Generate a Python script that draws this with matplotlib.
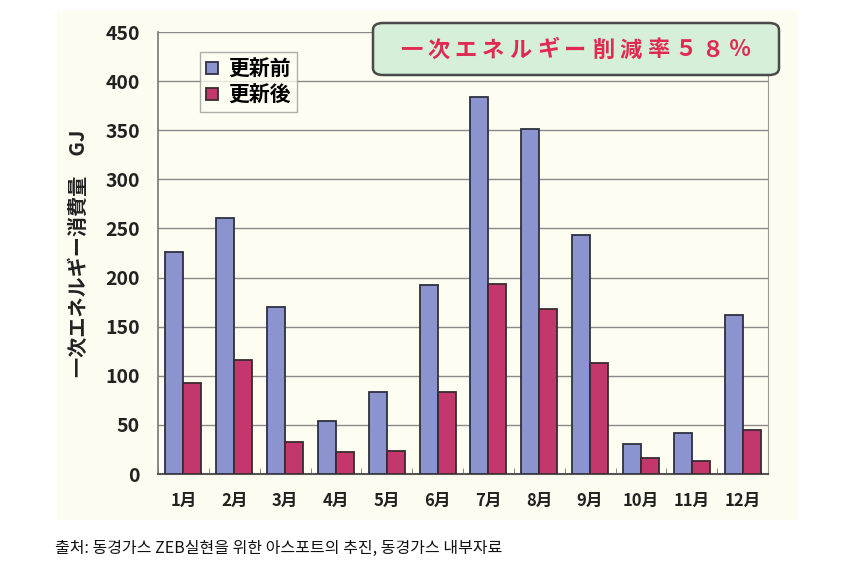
import matplotlib
matplotlib.use("Agg")
import matplotlib.pyplot as plt
import numpy as np
from matplotlib.patches import FancyBboxPatch

plt.rcParams['font.family'] = ['Noto Sans CJK JP', 'DejaVu Sans']

months = ["1月", "2月", "3月", "4月", "5月", "6月", "7月", "8月", "9月", "10月", "11月", "12月"]
before = [226, 261, 170, 54, 83, 192, 384, 351, 243, 31, 42, 162]
after = [93, 116, 33, 22, 23, 83, 193, 168, 113, 16, 13, 45]
series_names = ["更新前", "更新後"]
yticks = [0, 50, 100, 150, 200, 250, 300, 350, 400, 450]
banner = "一次エネルギー削減率５８％"

W, H = 847, 567
fig = plt.figure(figsize=(W / 100, H / 100), dpi=100)
fig.patch.set_facecolor("white")

# cream panel behind the chart
bg = fig.add_axes([57 / W, 1 - 520 / H, (798 - 57) / W, (520 - 10) / H], zorder=0)
bg.set_facecolor("#fcfcf0")
bg.set_xticks([]); bg.set_yticks([])
for s in bg.spines.values():
    s.set_visible(False)

ax = fig.add_axes([158 / W, 1 - 474 / H, (768 - 158) / W, (474 - 32) / H], zorder=1)
ax.set_facecolor("#fdfdf2")

x = np.arange(len(months))
bw = 0.355
c_blue = "#8c94cf"
c_red = "#c4376c"
ax.bar(x - bw / 2, before, bw, color=c_blue, edgecolor="#2e3140", linewidth=1.3, zorder=3, label=series_names[0])
ax.bar(x + bw / 2, after, bw, color=c_red, edgecolor="#3a2a30", linewidth=1.3, zorder=3, label=series_names[1])

ax.set_xlim(-0.5, len(months) - 0.5)
ax.set_ylim(0, 450)
ax.set_yticks(yticks)
ax.set_yticklabels([str(v) for v in yticks], fontsize=14, fontweight="bold", color="#222222")
ax.set_xticks(x)
ax.set_xticklabels(months, fontsize=12, fontweight="bold", color="#222222")
ax.tick_params(axis="x", length=0, pad=13)
ax.tick_params(axis="y", length=0, pad=13)
ax.set_xticks(np.arange(len(months) + 1) - 0.5, minor=True)
ax.tick_params(axis="x", which="minor", length=4, direction="in", color="#777777")

ax.grid(axis="y", color="#8a8a8a", linewidth=1.0, zorder=0)
ax.spines["top"].set_visible(False)
ax.spines["left"].set_color("#777777")
ax.spines["right"].set_color("#999999")
ax.spines["bottom"].set_color("#555555")
ax.spines["bottom"].set_linewidth(1.5)
ax.spines["left"].set_linewidth(1.2)

ax.set_ylabel("一次エネルギー消費量　GJ", fontsize=14.5, fontweight="bold", color="#222222", labelpad=12)

leg = ax.legend(loc="upper left", bbox_to_anchor=(42 / 610, 1 - 20 / 442),
                prop={"weight": "bold", "size": 15}, frameon=True, fancybox=False,
                edgecolor="#999999", facecolor="#fdfdf2", handlelength=0.55, handleheight=0.55,
                handletextpad=0.5, borderpad=0.3, labelspacing=0.25, borderaxespad=0)
leg.get_frame().set_linewidth(1.0)

# annotation box
box = FancyBboxPatch((373 / W, 1 - 75 / H), (779 - 373) / W, (75 - 23) / H,
                     boxstyle="round,pad=0,rounding_size=0.012",
                     transform=fig.transFigure, facecolor="#d6efd9", edgecolor="#4a4a4a",
                     linewidth=1.8, zorder=5)
fig.patches.append(box)
x0, x1 = 411, 740
n = len(banner)
for i, ch in enumerate(banner):
    fig.text((x0 + (x1 - x0) * i / (n - 1)) / W, 1 - 50 / H, ch, ha="center", va="center",
             fontsize=16, fontweight="bold", color="#e02a52", zorder=6)

fig.text(55 / W, 1 - 548 / H, "출처: 동경가스 ZEB실현을 위한 아스포트의 추진, 동경가스 내부자료",
         ha="left", va="center", fontsize=11.5, color="#111111",
         family=["Noto Sans CJK KR", "DejaVu Sans"])

fig.savefig("out.png", dpi=100)
